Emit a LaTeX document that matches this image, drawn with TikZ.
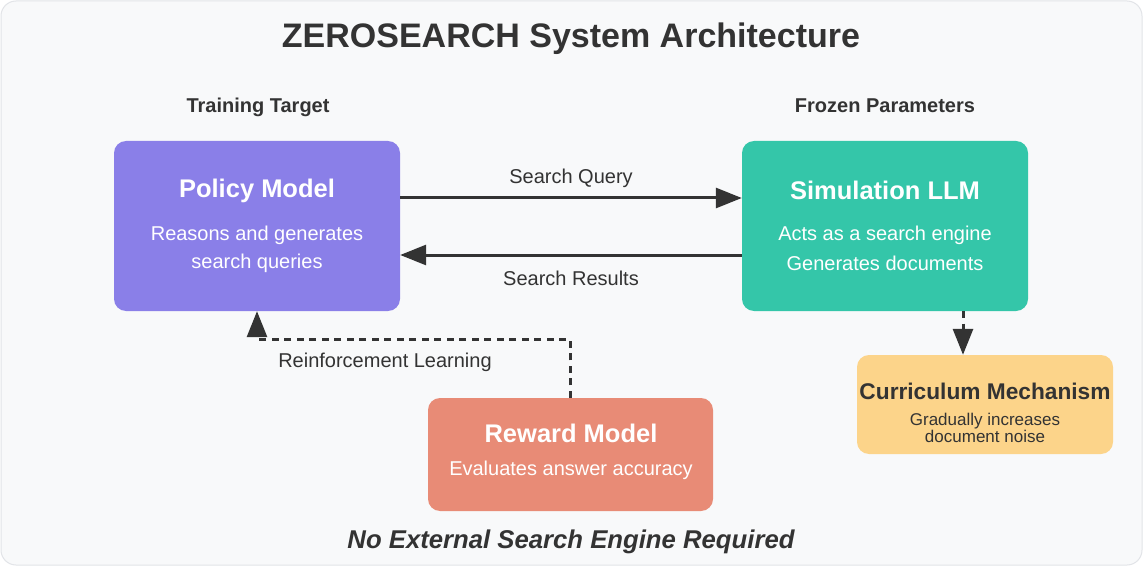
\documentclass[tikz,border=0pt]{standalone}
\usepackage{fontspec}
\setmainfont{Liberation Sans}
\usetikzlibrary{arrows.meta}
\definecolor{bg}{HTML}{F8F9FA}
\definecolor{bordergray}{HTML}{E2E4E8}
\definecolor{txt}{HTML}{333333}
\definecolor{polc}{HTML}{8A7FE8}
\definecolor{simc}{HTML}{34C6A9}
\definecolor{rewc}{HTML}{E88B76}
\definecolor{curc}{HTML}{FCD48A}
\tikzset{
  box/.style={rectangle, rounded corners=12pt, draw=none, inner sep=0pt},
  ttl/.style={text=txt, font=\fontsize{34}{40}\selectfont\bfseries, inner sep=0pt},
  sub/.style={text=txt, font=\fontsize{20}{24}\selectfont\bfseries, inner sep=0pt},
  bhead/.style={text=white, font=\fontsize{25.5}{30}\selectfont\bfseries, inner sep=0pt},
  btext/.style={text=white, font=\fontsize{20}{24}\selectfont, inner sep=0pt},
  elabel/.style={text=txt, font=\fontsize{20}{24}\selectfont, inner sep=0pt},
  chead/.style={text=txt, font=\fontsize{22.7}{27}\selectfont\bfseries, inner sep=0pt},
  ctext/.style={text=txt, font=\fontsize{17}{15.5}\selectfont, inner sep=0pt, align=center},
  foot/.style={text=txt, font=\fontsize{25.7}{30}\selectfont\bfseries\itshape, inner sep=0pt},
  arr/.style={draw=txt, line width=3pt, -{Triangle[length=26pt,width=20pt]}},
  darr/.style={draw=txt, line width=3pt, dash pattern=on 7pt off 5.5pt, -{Triangle[length=26pt,width=20pt]}},
}
\begin{document}
\begin{tikzpicture}[x=1pt,y=-1pt]
\useasboundingbox (0,0) rectangle (1144,567);
\fill[white] (0,0) rectangle (1144,567);
\draw[fill=bg, draw=bordergray, line width=1pt, rounded corners=15pt] (1,1) rectangle (1142,565);

\node[ttl] (title) at (571,39) {ZEROSEARCH System Architecture};
\node[sub] (tt) at (258,107) {Training Target};
\node[sub] (fp) at (885,106) {Frozen Parameters};

\node[box, fill=polc, minimum width=286pt, minimum height=170pt] (policy) at (257,226) {};
\node[bhead] (ph) at (257,191) {Policy Model};
\node[btext] (p1) at (257,235) {Reasons and generates};
\node[btext] (p2) at (257,263) {search queries};

\node[box, fill=simc, minimum width=286pt, minimum height=170pt] (sim) at (885,226) {};
\node[bhead] (sh) at (885,190) {Simulation LLM};
\node[btext] (s1) at (885,235) {Acts as a search engine};
\node[btext] (s2) at (885,263) {Generates documents};

\node[box, fill=curc, minimum width=256pt, minimum height=99pt] (curr) at (985,404.5) {};
\node[chead] (ch) at (985,391) {Curriculum Mechanism};
\node[ctext] (c1) at (985,428) {Gradually increases\\document noise};

\node[box, fill=rewc, minimum width=285pt, minimum height=113pt] (reward) at (570.5,454.5) {};
\node[bhead] (rh) at (571,433) {Reward Model};
\node[btext] (r1) at (571,470) {Evaluates answer accuracy};

\draw[arr] ([yshift=28pt]policy.east) -- ([yshift=28pt]sim.west);
\node[elabel] (lq) at (571,178) {Search Query};
\draw[arr] ([yshift=-29pt]sim.west) -- ([yshift=-29pt]policy.east);
\node[elabel] (lr) at (571,278) {Search Results};

\draw[darr] (reward.north) -- ++(0,-58) -| (policy.south);
\node[elabel] (lrl) at (385,362) {Reinforcement Learning};

\draw[darr] ([xshift=78pt]sim.south) -- ([xshift=-22pt]curr.north);

\node[foot] (ft) at (571,542) {No External Search Engine Required};
\end{tikzpicture}
\end{document}
